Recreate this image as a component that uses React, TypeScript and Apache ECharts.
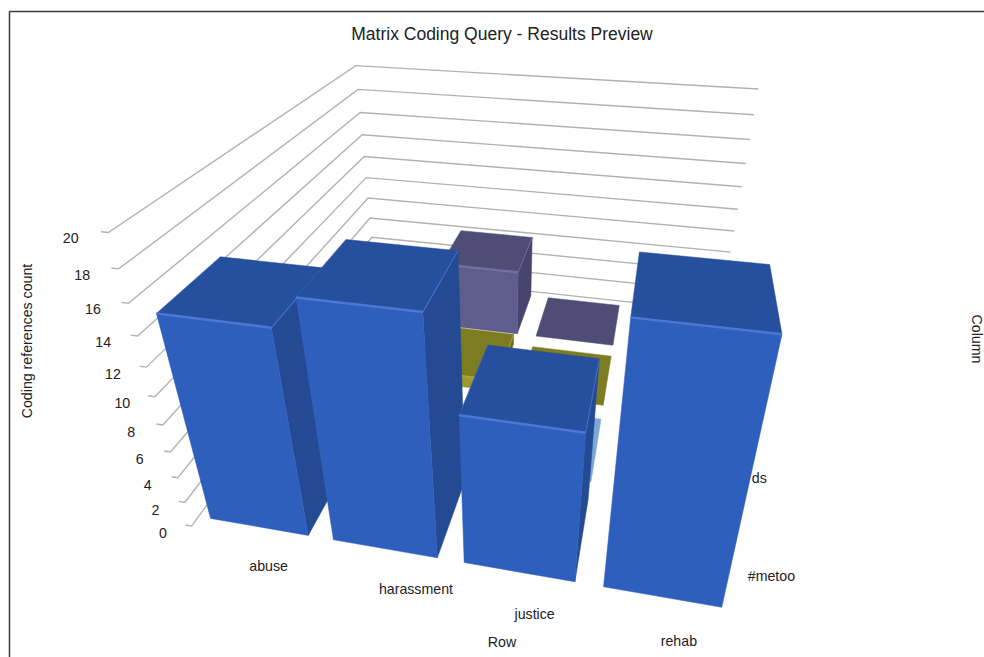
import React, { useEffect, useRef } from "react";
import * as echarts from "echarts";

// Chart content
const chartTitle = "Matrix Coding Query - Results Preview";
const rowLabels = ["abuse", "harassment", "justice", "rehab"];
const columnLabels = ["#metoo", "ds"];
const valueTicks = [0, 2, 4, 6, 8, 10, 12, 14, 16, 18, 20];

// Coding reference counts per row; null where no column is drawn.
const metooCounts = [15, 17, 11, 18];
const secondColumnCounts = [null, null, 0, null];
const thirdColumnCounts = [null, 1, 0, null];
const fourthColumnCounts = [null, 6, 0, null];

// Face colours for each column, from the front of the chart to the back.
const frontColors = ["#2f5fbd", "#7ba9d6", "#9a9a2e", "#5f5c8e"];
const topColors = ["#264f9e", "#7ba9d6", "#7e7c20", "#4f4c76"];
const sideColors = ["#234a92", "#5f8fbd", "#6f6d1c", "#47456e"];
const edgeColors = ["#4a78d4", "#7ba9d6", "#a6a63c", "#716ea2"];

const GRID_SPAN = 4;
const BAR_INSET = 0.1;

// Label placement along the floor edges, in world units and pixels.
const rowLabelShift = [0.18, 0.27, 0.11, 0.06];
const rowLabelDepth = [-0.22, -0.19, -0.22, -0.22];
const columnLabelPixelShift = [1, 12];

// Camera calibration: world position (row, depth, value) to screen position.
const calibration: number[][] = [
  [0, 0, 0, 189, 523], [4, 0, 0, 738, 620], [0, 4, 0, 376, 276], [4, 4, 0, 719, 314],
  [0, 0, 20, 108, 233], [0, 4, 20, 356, 65], [4, 4, 20, 758, 88],
  [0, 0, 14, 138, 334], [0, 4, 10, 367, 177], [4, 4, 10, 738, 208],
  [0.1, 0.1, 0, 210, 518], [0.9, 0.1, 0, 308, 535], [1.1, 0.1, 0, 333, 540], [1.9, 0.1, 0, 438, 558],
  [2.1, 0.1, 0, 464, 563], [2.9, 0.1, 0, 576, 582], [3.1, 0.1, 0, 604, 588], [3.9, 0.1, 0, 723, 607],
  [2.1, 3.1, 0, 536, 336], [2.9, 3.1, 0, 613, 345], [2.9, 3.9, 0, 620, 305], [2.1, 3.9, 0, 547, 297],
  [2.9, 2.9, 0, 612, 356], [2.9, 2.1, 0, 605, 406], [2.1, 2.9, 0, 532, 347],
  [2.9, 1.9, 0, 602, 419], [2.9, 1.1, 0, 590, 482],
  [0.1, 0.1, 15, 157, 315], [0.9, 0.1, 15, 272, 328], [0.1, 0.9, 15, 220, 258],
  [1.1, 0.1, 17, 296, 298], [1.9, 0.1, 17, 423, 312], [1.1, 0.9, 17, 347, 240], [1.9, 0.9, 17, 457, 251],
  [2.1, 0.1, 11, 459, 416], [2.9, 0.1, 11, 585, 432], [2.1, 0.9, 11, 488, 347], [2.9, 0.9, 11, 598, 360],
  [3.1, 0.1, 18, 632, 317], [3.9, 0.1, 18, 782, 335], [3.1, 0.9, 18, 639, 252], [3.9, 0.9, 18, 769, 264],
  [1.9, 3.9, 6, 532, 238], [1.9, 3.1, 6, 518, 271],
];

function solveLinear(a: number[][], b: number[]): number[] {
  const n = b.length;
  const m = a.map((r, i) => [...r, b[i]]);
  for (let c = 0; c < n; c++) {
    let p = c;
    for (let r = c + 1; r < n; r++) if (Math.abs(m[r][c]) > Math.abs(m[p][c])) p = r;
    [m[c], m[p]] = [m[p], m[c]];
    for (let r = 0; r < n; r++) {
      if (r === c) continue;
      const f = m[r][c] / m[c][c];
      for (let k = c; k <= n; k++) m[r][k] -= f * m[c][k];
    }
  }
  return m.map((r, i) => r[n] / r[i]);
}

// Least-squares fit of the 3x4 projection matrix (lower-right entry fixed at 1).
function fitCamera(points: number[][]): number[] {
  const rows: number[][] = [];
  const rhs: number[] = [];
  for (const [x, y, zRaw, uRaw, vRaw] of points) {
    const z = zRaw / 5;
    const u = uRaw / 500;
    const v = vRaw / 500;
    rows.push([x, y, z, 1, 0, 0, 0, 0, -u * x, -u * y, -u * z]);
    rhs.push(u);
    rows.push([0, 0, 0, 0, x, y, z, 1, -v * x, -v * y, -v * z]);
    rhs.push(v);
  }
  const ata = Array.from({ length: 11 }, (_, i) =>
    Array.from({ length: 11 }, (_, j) => rows.reduce((s, r) => s + r[i] * r[j], 0))
  );
  const atb = Array.from({ length: 11 }, (_, i) => rows.reduce((s, r, k) => s + r[i] * rhs[k], 0));
  return solveLinear(ata, atb);
}

const cam = fitCamera(calibration);

function project(x: number, y: number, zRaw: number): number[] {
  const z = zRaw / 5;
  const w = cam[8] * x + cam[9] * y + cam[10] * z + 1;
  return [
    (500 * (cam[0] * x + cam[1] * y + cam[2] * z + cam[3])) / w,
    (500 * (cam[4] * x + cam[5] * y + cam[6] * z + cam[7])) / w,
  ];
}

const signedArea = (pts: number[][]) =>
  pts.reduce((s, p, i) => {
    const q = pts[(i + 1) % pts.length];
    return s + p[0] * q[1] - q[0] * p[1];
  }, 0);

const columnSeries = [metooCounts, secondColumnCounts, thirdColumnCounts, fourthColumnCounts];
const CAMERA_ROW = 3.1;

// Painter's order: farthest columns first, then rows farthest from the camera.
const barData: number[][] = columnSeries
  .flatMap((vals, c) =>
    vals.map((v, r) => (v === null ? null : [r, c, v as number])).filter(Boolean) as number[][]
  )
  .sort((a, b) => b[1] - a[1] || Math.abs(b[0] + 0.5 - CAMERA_ROW) - Math.abs(a[0] + 0.5 - CAMERA_ROW));

function renderBar(_: unknown, api: any) {
  const row = api.value(0);
  const col = api.value(1);
  const val = api.value(2);
  const x0 = row + BAR_INSET;
  const x1 = row + 1 - BAR_INSET;
  const y0 = col + BAR_INSET;
  const y1 = col + 1 - BAR_INSET;
  const poly = (pts: number[][], fill: string) => ({
    type: "polygon",
    shape: { points: pts },
    style: { fill, stroke: fill, lineWidth: 0.5 },
  });
  const children: any[] = [];
  if (val > 0) {
    const left = [[x0, y1, 0], [x0, y0, 0], [x0, y0, val], [x0, y1, val]].map((p) => project(p[0], p[1], p[2]));
    const right = [[x1, y0, 0], [x1, y1, 0], [x1, y1, val], [x1, y0, val]].map((p) => project(p[0], p[1], p[2]));
    if (signedArea(left) < 0) children.push(poly(left, sideColors[col]));
    if (signedArea(right) < 0) children.push(poly(right, sideColors[col]));
    const front = [[x0, y0, 0], [x1, y0, 0], [x1, y0, val], [x0, y0, val]].map((p) => project(p[0], p[1], p[2]));
    children.push(poly(front, frontColors[col]));
  }
  const top = [[x0, y0, val], [x1, y0, val], [x1, y1, val], [x0, y1, val]].map((p) => project(p[0], p[1], p[2]));
  children.push(poly(top, topColors[col]));
  if (val > 0) {
    children.push({
      type: "line",
      shape: { x1: top[0][0], y1: top[0][1], x2: top[1][0], y2: top[1][1] },
      style: { stroke: edgeColors[col], lineWidth: 2.5 },
    });
    const rightVisible = signedArea([project(x1, y0, 0), project(x1, y1, 0), project(x1, y1, val)]) < 0;
    if (rightVisible) {
      children.push({
        type: "line",
        shape: { x1: top[1][0], y1: top[1][1], x2: top[2][0], y2: top[2][1] },
        style: { stroke: edgeColors[col], lineWidth: 1.2, opacity: 0.7 },
      });
      children.push({
        type: "line",
        shape: { x1: top[0][0], y1: top[0][1], x2: top[3][0], y2: top[3][1] },
        style: { stroke: edgeColors[col], lineWidth: 1, opacity: 0.35 },
      });
    }
  }
  return { type: "group", children };
}

const labelFont = "14.2px 'Liberation Sans', Arial, sans-serif";

function renderGridline(_: unknown, api: any) {
  const z = api.value(0);
  const pts = [
    project(-0.05, 0, z),
    project(0, 0, z),
    project(0, GRID_SPAN, z),
    project(GRID_SPAN, GRID_SPAN, z),
  ];
  const label = project(-0.17, -0.11, z);
  return {
    type: "group",
    children: [
      { type: "polyline", shape: { points: pts }, style: { fill: "none", stroke: "#b2b2b2", lineWidth: 1.4 } },
      {
        type: "text",
        x: label[0],
        y: label[1],
        style: { text: String(z), fill: "#222", font: labelFont, align: "center", verticalAlign: "middle" },
      },
    ],
  };
}

function renderRowLabel(_: unknown, api: any) {
  const r = api.value(0);
  const p = project(r + 0.56 + rowLabelShift[r], rowLabelDepth[r], 0);
  return {
    type: "text",
    x: p[0],
    y: p[1],
    style: { text: rowLabels[r], fill: "#222", font: labelFont, align: "center", verticalAlign: "middle" },
  };
}

function renderColumnLabel(_: unknown, api: any) {
  const c = api.value(0);
  const p = project(GRID_SPAN + 0.08, c + 0.4, 0);
  return {
    type: "text",
    x: p[0] + columnLabelPixelShift[c],
    y: p[1],
    style: { text: columnLabels[c], fill: "#222", font: labelFont, align: "left", verticalAlign: "middle" },
  };
}

export default function App() {
  const ref = useRef<HTMLDivElement>(null);
  useEffect(() => {
    const chart = echarts.init(ref.current!, undefined, { renderer: "svg" });
    chart.setOption({
      animation: false,
      backgroundColor: "#ffffff",
      title: {
        text: chartTitle,
        left: 497,
        top: 20,
        textAlign: "center",
        textStyle: { fontFamily: "'Liberation Sans', Arial, sans-serif", fontSize: 17.5, fontWeight: "normal", color: "#222" },
      },
      graphic: [
        { type: "line", silent: true, shape: { x1: 9.5, y1: 11.5, x2: 984, y2: 11.5 }, style: { stroke: "#3a3a3a", lineWidth: 1.5 } },
        { type: "line", silent: true, shape: { x1: 9.5, y1: 11.5, x2: 9.5, y2: 657 }, style: { stroke: "#3a3a3a", lineWidth: 1.5 } },
        {
          type: "text", x: 27, y: 341, rotation: Math.PI / 2, silent: true,
          style: { text: "Coding references count", font: labelFont, fill: "#222", align: "center", verticalAlign: "middle" },
        },
        {
          type: "text", x: 977, y: 339, rotation: -Math.PI / 2, silent: true,
          style: { text: "Column", font: labelFont, fill: "#222", align: "center", verticalAlign: "middle" },
        },
        {
          type: "text", x: 502, y: 642, silent: true,
          style: { text: "Row", font: labelFont, fill: "#222", align: "center", verticalAlign: "middle" },
        },
      ],
      series: [
        { type: "custom", coordinateSystem: "none", silent: true, clip: false, z: 1, renderItem: renderGridline, data: valueTicks.map((v) => [v]) },
        { type: "custom", coordinateSystem: "none", silent: true, clip: false, z: 1, renderItem: renderRowLabel, data: rowLabels.map((_, i) => [i]) },
        { type: "custom", coordinateSystem: "none", silent: true, clip: false, z: 1, renderItem: renderColumnLabel, data: columnLabels.map((_, i) => [i]) },
        { type: "custom", coordinateSystem: "none", silent: true, clip: false, z: 2, renderItem: renderBar, data: barData },
      ],
    });
    return () => chart.dispose();
  }, []);
  return <div ref={ref} style={{ position: "fixed", left: 0, top: 0, width: 984, height: 657 }} />;
}
